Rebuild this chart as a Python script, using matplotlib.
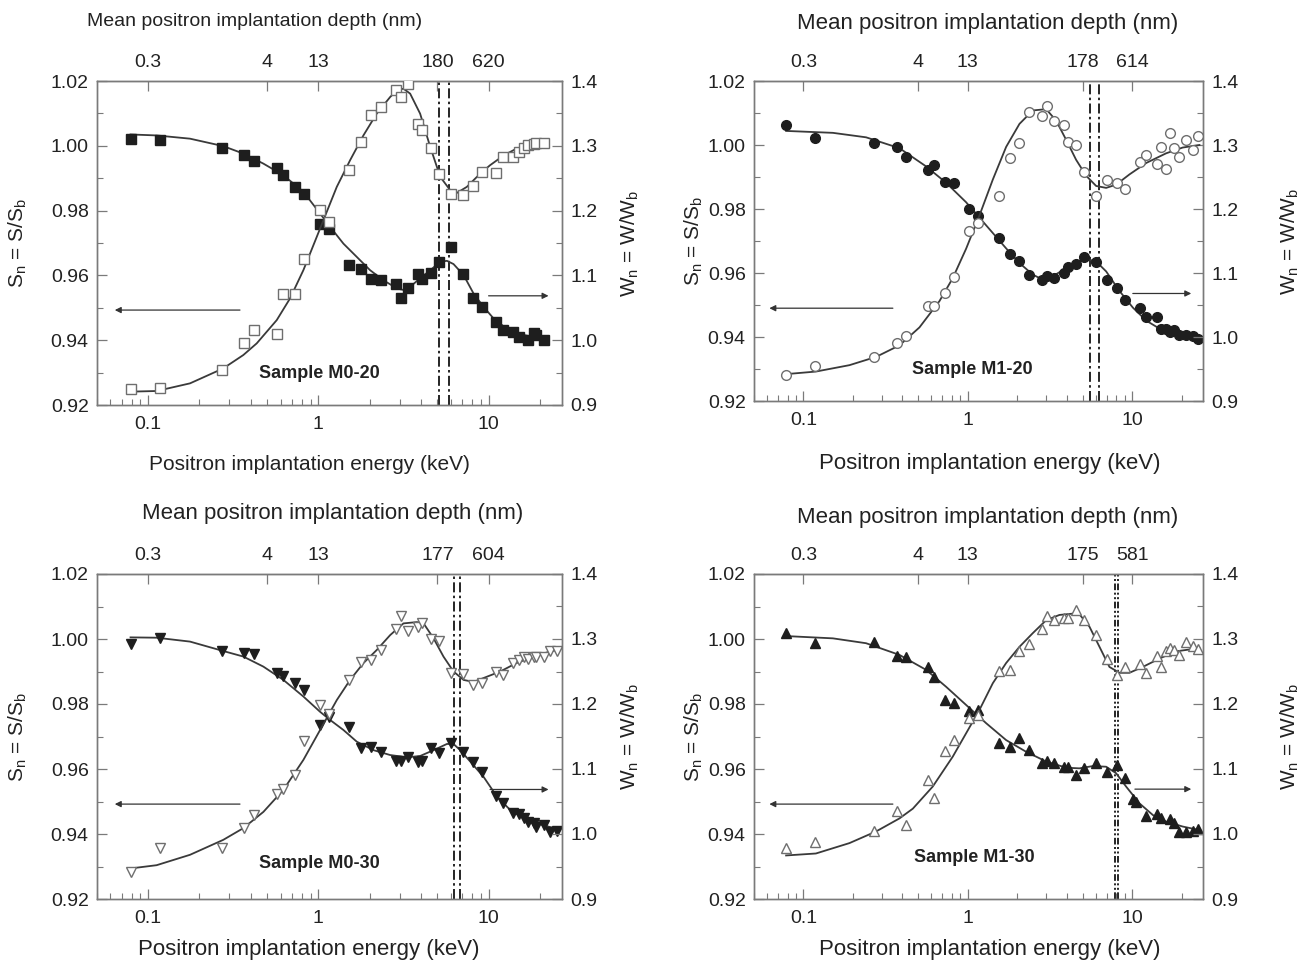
import matplotlib
matplotlib.use("Agg")
import matplotlib.pyplot as plt
from matplotlib.ticker import FixedLocator, NullLocator, NullFormatter, LogLocator

plt.rcParams['font.family'] = ['Liberation Sans', 'DejaVu Sans']
plt.rcParams['mathtext.fontset'] = 'custom'
plt.rcParams['mathtext.rm'] = 'Liberation Sans'

# ---------------- Sample M0-20 ----------------
e_m020 = [0.079, 0.118, 0.271, 0.367, 0.418, 0.569, 0.623, 0.729, 0.827, 1.02,
          1.15, 1.52, 1.77, 2.04, 2.32, 2.84, 3.04, 3.35, 3.86, 4.04,
          4.56, 5.10, 6.00, 7.06, 8.05, 9.09, 11.0, 12.1, 14.0, 15.0,
          17.0, 18.4, 19.1, 21.1]
s_m020 = [1.0020, 1.0017, 0.9994, 0.9971, 0.9952, 0.9930, 0.9909, 0.9873, 0.9850, 0.9760,
          0.9742, 0.9632, 0.9619, 0.9588, 0.9585, 0.9572, 0.9531, 0.9561, 0.9604, 0.9590,
          0.9606, 0.9642, 0.9688, 0.9603, 0.9531, 0.9503, 0.9457, 0.9433, 0.9426, 0.9411,
          0.9400, 0.9421, 0.9416, 0.9401]
e_m020_w = [0.079, 0.118, 0.271, 0.367, 0.418, 0.569, 0.623, 0.729, 0.827, 1.02,
            1.15, 1.52, 1.77, 2.04, 2.32, 2.84, 3.04, 3.35, 3.86, 4.04,
            4.56, 5.10, 6.00, 7.06, 8.05, 9.09, 11.0, 12.1, 14.0, 15.0,
            16.1, 17.0, 18.4, 19.1, 21.1]
w_m020 = [0.925, 0.927, 0.954, 0.996, 1.015, 1.009, 1.072, 1.072, 1.126, 1.201,
          1.182, 1.262, 1.306, 1.347, 1.360, 1.386, 1.376, 1.396, 1.333, 1.324,
          1.296, 1.257, 1.225, 1.224, 1.238, 1.260, 1.258, 1.282, 1.283, 1.291,
          1.297, 1.302, 1.303, 1.304, 1.305]
fit_es_m020 = [0.0787, 0.112, 0.176, 0.276, 0.362, 0.475, 0.623, 0.816, 1.023, 1.171,
               1.403, 1.681, 2.013, 2.41, 2.89, 3.16, 3.46, 3.96, 4.54, 5.20,
               5.69, 6.22, 7.13, 8.16, 9.34, 10.7, 12.3, 14.0, 16.1, 19.2, 21.1]
fit_s_m020 = [1.0035, 1.0032, 1.0022, 0.9999, 0.9976, 0.9945, 0.9909, 0.9858, 0.9791, 0.9750,
              0.9698, 0.9657, 0.9616, 0.9585, 0.9560, 0.9555, 0.9565, 0.9591, 0.9616, 0.9642,
              0.9645, 0.9635, 0.9601, 0.9544, 0.9503, 0.9467, 0.9442, 0.9426, 0.9416, 0.9408, 0.9406]
fit_ew_m020 = [0.0787, 0.112, 0.176, 0.276, 0.362, 0.434, 0.569, 0.681, 0.816, 0.978,
               1.070, 1.282, 1.535, 1.840, 2.20, 2.64, 2.89, 3.16, 3.46, 3.96,
               4.54, 5.20, 5.95, 6.51, 7.45, 8.93, 10.2, 12.3, 14.6, 17.6, 21.1]
fit_w_m020 = [0.9206, 0.9216, 0.9334, 0.9565, 0.9771, 0.9951, 1.0310, 1.0644, 1.1081, 1.1595,
              1.1852, 1.2366, 1.2777, 1.3162, 1.3496, 1.3753, 1.3856, 1.3882, 1.3805, 1.3496,
              1.2983, 1.2520, 1.2315, 1.2273, 1.2366, 1.2571, 1.2700, 1.2854, 1.2957, 1.3008, 1.3034]

# ---------------- Sample M1-20 ----------------
e_m120 = [0.078, 0.118, 0.270, 0.372, 0.421, 0.571, 0.621, 0.728, 0.830, 1.02,
          1.16, 1.54, 1.80, 2.04, 2.35, 2.83, 3.04, 3.34, 3.84, 4.06,
          4.56, 5.06, 6.04, 7.01, 8.07, 9.11, 11.1, 12.2, 14.2, 15.0,
          16.1, 16.9, 18.1, 19.4, 21.3, 23.4, 25.3]
s_m120 = [1.0062, 1.0021, 1.0005, 0.9993, 0.9961, 0.9921, 0.9936, 0.9884, 0.9882, 0.9800,
          0.9779, 0.9710, 0.9658, 0.9639, 0.9595, 0.9577, 0.9592, 0.9584, 0.9599, 0.9618,
          0.9628, 0.9651, 0.9633, 0.9577, 0.9554, 0.9516, 0.9490, 0.9464, 0.9464, 0.9426,
          0.9426, 0.9416, 0.9421, 0.9405, 0.9407, 0.9402, 0.9395]
w_m120 = [0.940, 0.955, 0.968, 0.991, 1.002, 1.049, 1.049, 1.069, 1.094, 1.166,
          1.178, 1.221, 1.280, 1.303, 1.351, 1.345, 1.361, 1.337, 1.332, 1.304,
          1.300, 1.258, 1.221, 1.245, 1.241, 1.232, 1.273, 1.284, 1.270, 1.297,
          1.263, 1.319, 1.296, 1.281, 1.308, 1.292, 1.314]
fit_es_m120 = [0.0784, 0.151, 0.2405, 0.384, 0.558, 0.738, 0.977, 1.293, 1.711, 2.063,
               2.486, 2.86, 3.29, 3.97, 4.78, 5.25, 6.04, 6.95, 8.37, 10.1,
               12.2, 14.7, 17.7, 21.3, 25.7]
fit_s_m120 = [1.0044, 1.0038, 1.0024, 0.9990, 0.9933, 0.9882, 0.9821, 0.9749, 0.9677, 0.9631,
              0.9595, 0.9579, 0.9590, 0.9615, 0.9638, 0.9644, 0.9636, 0.9605, 0.9544, 0.9492,
              0.9451, 0.9426, 0.9410, 0.9400, 0.9395]
fit_ew_m120 = [0.0784, 0.119, 0.1905, 0.277, 0.384, 0.508, 0.672, 0.810, 0.977, 1.178,
               1.420, 1.711, 2.063, 2.486, 3.00, 3.45, 3.97, 4.56, 5.25, 6.04,
               6.95, 7.99, 9.63, 12.2, 16.1, 20.3, 25.7]
fit_w_m120 = [0.942, 0.946, 0.956, 0.969, 0.987, 1.015, 1.056, 1.092, 1.138, 1.190,
              1.246, 1.297, 1.333, 1.354, 1.356, 1.338, 1.308, 1.277, 1.252, 1.236,
              1.233, 1.238, 1.254, 1.272, 1.287, 1.296, 1.300]

# ---------------- Sample M0-30 ----------------
e_m030 = [0.079, 0.118, 0.271, 0.367, 0.418, 0.569, 0.623, 0.729, 0.827, 1.02,
          1.15, 1.52, 1.77, 2.04, 2.32, 2.84, 3.04, 3.35, 3.86, 4.04,
          4.56, 5.10, 6.00, 7.06, 8.05, 9.09, 11.0, 12.1, 14.0, 15.0,
          16.1, 17.0, 18.4, 19.1, 21.1, 23.1, 25.2]
s_m030 = [0.9984, 1.0002, 0.9963, 0.9956, 0.9953, 0.9894, 0.9886, 0.9864, 0.9843, 0.9734,
          0.9761, 0.9728, 0.9666, 0.9669, 0.9651, 0.9626, 0.9626, 0.9636, 0.9621, 0.9626,
          0.9664, 0.9648, 0.9681, 0.9651, 0.9621, 0.9590, 0.9517, 0.9494, 0.9466, 0.9462,
          0.9448, 0.9438, 0.9433, 0.9423, 0.9428, 0.9405, 0.9410]
w_m030 = [0.941, 0.979, 0.978, 1.010, 1.029, 1.062, 1.069, 1.091, 1.143, 1.199,
          1.184, 1.237, 1.264, 1.268, 1.283, 1.316, 1.335, 1.313, 1.319, 1.324,
          1.300, 1.297, 1.247, 1.246, 1.230, 1.233, 1.250, 1.245, 1.263, 1.267,
          1.273, 1.269, 1.273, 1.273, 1.273, 1.281, 1.281]
fit_es_m030 = [0.0787, 0.112, 0.176, 0.276, 0.362, 0.475, 0.623, 0.816, 1.023, 1.171,
               1.403, 1.681, 2.106, 2.64, 3.31, 3.96, 4.75, 5.69, 6.22, 6.81,
               7.80, 9.34, 11.2, 13.4, 16.1, 19.2, 23.1, 26.4]
fit_s_m030 = [1.0005, 1.0004, 0.9992, 0.9963, 0.9946, 0.9915, 0.9874, 0.9823, 0.9776, 0.9751,
              0.9720, 0.9684, 0.9658, 0.9643, 0.9636, 0.9640, 0.9658, 0.9677, 0.9677, 0.9658,
              0.9623, 0.9576, 0.9515, 0.9474, 0.9448, 0.9433, 0.9421, 0.9414]
fit_ew_m030 = [0.0787, 0.112, 0.176, 0.276, 0.362, 0.475, 0.623, 0.816, 1.023, 1.282,
               1.535, 1.840, 2.20, 2.64, 3.16, 3.79, 4.15, 4.75, 5.43, 6.22,
               7.13, 8.16, 9.78, 11.7, 14.6, 18.4, 23.1, 26.4]
fit_w_m030 = [0.947, 0.952, 0.968, 0.991, 1.009, 1.034, 1.068, 1.114, 1.160, 1.206,
              1.237, 1.263, 1.283, 1.306, 1.324, 1.326, 1.324, 1.301, 1.273, 1.250,
              1.237, 1.234, 1.242, 1.250, 1.263, 1.273, 1.281, 1.284]

# ---------------- Sample M1-30 ----------------
e_m130 = [0.078, 0.118, 0.270, 0.372, 0.421, 0.571, 0.621, 0.728, 0.830, 1.02,
          1.16, 1.54, 1.80, 2.04, 2.35, 2.83, 3.04, 3.34, 3.84, 4.06,
          4.56, 5.06, 6.04, 7.01, 8.07, 9.11, 10.1, 10.6, 12.2, 14.2,
          15.0, 16.9, 18.1, 19.4, 21.3, 23.4, 25.3]
s_m130 = [1.0017, 0.9989, 0.9992, 0.9948, 0.9946, 0.9915, 0.9882, 0.9812, 0.9802, 0.9779,
          0.9782, 0.9679, 0.9669, 0.9694, 0.9658, 0.9619, 0.9626, 0.9617, 0.9607, 0.9607,
          0.9582, 0.9602, 0.9617, 0.9592, 0.9612, 0.9571, 0.9508, 0.9497, 0.9456, 0.9461,
          0.9450, 0.9446, 0.9433, 0.9405, 0.9407, 0.9410, 0.9414]
e_m130_w = [0.078, 0.118, 0.270, 0.372, 0.421, 0.571, 0.621, 0.728, 0.830, 1.02,
            1.16, 1.54, 1.80, 2.04, 2.35, 2.83, 3.04, 3.34, 3.84, 4.06,
            4.56, 5.06, 6.04, 7.01, 8.07, 9.11, 11.1, 12.2, 14.2, 15.0,
            16.1, 16.9, 18.1, 19.4, 21.3, 23.4, 25.3]
w_m130 = [0.978, 0.988, 1.004, 1.036, 1.014, 1.083, 1.056, 1.128, 1.145, 1.178,
          1.183, 1.251, 1.252, 1.282, 1.292, 1.316, 1.335, 1.330, 1.332, 1.333,
          1.345, 1.330, 1.306, 1.269, 1.245, 1.257, 1.262, 1.247, 1.274, 1.257,
          1.281, 1.286, 1.283, 1.275, 1.296, 1.289, 1.284]
fit_es_m130 = [0.0784, 0.151, 0.2405, 0.384, 0.558, 0.738, 0.977, 1.293, 1.711, 2.265,
               3.00, 3.97, 4.78, 5.76, 6.95, 7.99, 9.19, 11.1, 13.4, 16.1,
               20.3, 25.7]
fit_s_m130 = [1.0009, 1.0002, 0.9987, 0.9951, 0.9905, 0.9853, 0.9797, 0.9741, 0.9689, 0.9653,
              0.9623, 0.9604, 0.9602, 0.9609, 0.9607, 0.9587, 0.9546, 0.9494, 0.9458, 0.9438,
              0.9423, 0.9412]
fit_ew_m130 = [0.0784, 0.119, 0.1905, 0.277, 0.384, 0.463, 0.612, 0.810, 0.977, 1.178,
               1.420, 1.711, 2.063, 2.486, 3.00, 3.61, 4.35, 4.78, 5.50, 6.33,
               7.28, 8.37, 9.63, 11.6, 14.7, 18.5, 25.7]
fit_w_m130 = [0.967, 0.970, 0.986, 1.004, 1.024, 1.039, 1.073, 1.119, 1.155, 1.191,
              1.232, 1.263, 1.288, 1.309, 1.329, 1.337, 1.339, 1.338, 1.319, 1.288,
              1.257, 1.248, 1.248, 1.257, 1.270, 1.281, 1.286]

# top axis: energies and the mean depths written there
top_energy = [0.1, 0.5, 1, 5, 10]
depth_m020 = ['0.3', '4', '13', '180', '620']
depth_m120 = ['0.3', '4', '13', '178', '614']
depth_m030 = ['0.3', '4', '13', '177', '604']
depth_m130 = ['0.3', '4', '13', '175', '581']

# dash-dot marker lines (keV)
vl_m020 = [5.13, 5.82]
vl_m120 = [5.58, 6.27]
vl_m030 = [6.29, 6.77]
vl_m130 = [7.92, 8.23]

W, H = 1309, 965
fig = plt.figure(figsize=(W / 100, H / 100), dpi=100)


def fx(x):
    return x / W


def fy(y):
    return 1 - y / H


DARK = '#1e1e1e'
GREY = '#6e6e6e'
SPINE = '#7a7a7a'


def panel(box, es, s, ew, w, fes, fs, few, fw, marker, ms, vlines, vdash,
          depth, sample, sample_pos, arrow_l, arrow_r):
    x0, y0, x1, y1 = box
    ax = fig.add_axes([fx(x0), fy(y1), fx(x1) - fx(x0), fy(y0) - fy(y1)])
    axw = ax.twinx()

    ax.set_xscale('log')
    ax.set_xlim(0.05, 27)
    ax.set_ylim(0.92, 1.02)
    axw.set_ylim(0.9, 1.4)

    # S parameter (left) -- filled symbols
    ax.plot(fes, fs, color='#3a3a3a', lw=1.3, zorder=2)
    ax.plot(es, s, ls='none', marker=marker, ms=ms, mfc=DARK, mec=DARK, zorder=3)
    # W parameter (right) -- open symbols
    axw.plot(few, fw, color='#3a3a3a', lw=1.3, zorder=2)
    axw.plot(ew, w, ls='none', marker=marker, ms=ms, mfc='white', mec=GREY,
             mew=1.0, zorder=3)

    for v in vlines:
        ax.axvline(v, color='black', lw=1.2, ls=vdash, zorder=1)

    # arrows pointing to the relevant axis
    for a in (arrow_l, arrow_r):
        ax.annotate('', xy=(a[1], a[2]), xytext=(a[0], a[2]),
                    arrowprops=dict(arrowstyle='-|>', lw=0.9, color='#333333',
                                    mutation_scale=9, shrinkA=0, shrinkB=0))

    ax.text(sample_pos[0], sample_pos[1], sample, ha='center', va='center',
            fontsize=13, fontweight='bold', color='#222222')

    # ticks
    ax.set_xticks([0.1, 1, 10])
    ax.set_xticklabels(['0.1', '1', '10'])
    ax.xaxis.set_minor_locator(LogLocator(base=10, subs=range(2, 10)))
    ax.xaxis.set_minor_formatter(NullFormatter())
    ax.yaxis.set_major_locator(FixedLocator([0.92, 0.94, 0.96, 0.98, 1.00, 1.02]))
    ax.yaxis.set_minor_locator(FixedLocator([0.93, 0.95, 0.97, 0.99, 1.01]))
    ax.set_yticklabels(['0.92', '0.94', '0.96', '0.98', '1.00', '1.02'])
    axw.yaxis.set_major_locator(FixedLocator([0.9, 1.0, 1.1, 1.2, 1.3, 1.4]))
    axw.yaxis.set_minor_locator(FixedLocator([0.95, 1.05, 1.15, 1.25, 1.35]))
    axw.set_yticklabels(['0.9', '1.0', '1.1', '1.2', '1.3', '1.4'])

    ax.tick_params(which='major', direction='in', length=7, width=0.9,
                   color=SPINE, labelsize=14, pad=6, labelcolor='#222222')
    ax.tick_params(axis='x', which='major', pad=8)
    ax.tick_params(which='minor', direction='in', length=4, width=0.8, color=SPINE)
    axw.tick_params(which='major', direction='in', length=7, width=0.9,
                    color=SPINE, labelsize=14, pad=6, labelcolor='#222222')
    axw.tick_params(which='minor', direction='in', length=4, width=0.8, color=SPINE)

    top = ax.secondary_xaxis('top')
    top.set_xticks(top_energy)
    top.set_xticklabels(depth)
    top.xaxis.set_minor_locator(NullLocator())
    top.tick_params(direction='in', length=7, width=0.9, color=SPINE,
                    labelsize=14, pad=7, labelcolor='#222222')

    for a in (ax, axw):
        for sp in a.spines.values():
            sp.set_color(SPINE)
            sp.set_linewidth(1.0)
    for sp in top.spines.values():
        sp.set_color(SPINE)

    return (y0 + y1) / 2


def labels(xtop, ytop, xbot, ybot, xl, xr, yc, top_size=16, bot_size=16):
    fig.text(fx(xtop), fy(ytop), 'Mean positron implantation depth (nm)',
             ha='center', va='center', fontsize=top_size, color='#222222')
    fig.text(fx(xbot), fy(ybot), 'Positron implantation energy (keV)',
             ha='center', va='center', fontsize=bot_size, color='#222222')
    fig.text(fx(xl), fy(yc), r'S$_\mathregular{n}$ = S/S$_\mathregular{b}$',
             rotation=90, ha='center', va='center', fontsize=15, color='#222222')
    fig.text(fx(xr), fy(yc), r'W$_\mathregular{n}$ = W/W$_\mathregular{b}$',
             rotation=90, ha='center', va='center', fontsize=15, color='#222222')


dashdot = (0, (6, 2, 1.5, 2))
dashdotdot = (0, (4, 1.5, 1.2, 1.5, 1.2, 1.5))

# panel 1
yc = panel((97, 81, 562, 405), e_m020, s_m020, e_m020_w, w_m020,
           fit_es_m020, fit_s_m020, fit_ew_m020, fit_w_m020,
           's', 6.5, vl_m020, dashdot, depth_m020, 'Sample M0-20',
           (1.02, 0.9298), (0.346, 0.0636, 0.9493), (10.0, 22.5, 0.9537))
labels(255, 22, 309, 465, 18, 630, yc, top_size=14, bot_size=15)

# panel 2
yc = panel((754, 81, 1203, 401), e_m120, s_m120, e_m120, w_m120,
           fit_es_m120, fit_s_m120, fit_ew_m120, fit_w_m120,
           'o', 7, vl_m120, dashdot, depth_m120, 'Sample M1-20',
           (1.07, 0.9297), (0.35, 0.062, 0.949), (10.1, 22.9, 0.9536))
labels(988, 23, 990, 464, 694, 1290, yc)

# panel 3
yc = panel((97, 574, 562, 899), e_m030, s_m030, e_m030, w_m030,
           fit_es_m030, fit_s_m030, fit_ew_m030, fit_w_m030,
           'v', 7.5, vl_m030, dashdot, depth_m030, 'Sample M0-30',
           (1.02, 0.931), (0.346, 0.0636, 0.9492), (10.2, 22.5, 0.9537))
labels(333, 513, 309, 950, 18, 630, yc)

# panel 4
yc = panel((754, 574, 1203, 899), e_m130, s_m130, e_m130_w, w_m130,
           fit_es_m130, fit_s_m130, fit_ew_m130, fit_w_m130,
           '^', 7.5, vl_m130, dashdotdot, depth_m130, 'Sample M1-30',
           (1.09, 0.9328), (0.35, 0.062, 0.9492), (10.4, 22.9, 0.9538))
labels(988, 518, 990, 950, 694, 1290, yc)

fig.savefig('out.png', dpi=100, facecolor='white')
